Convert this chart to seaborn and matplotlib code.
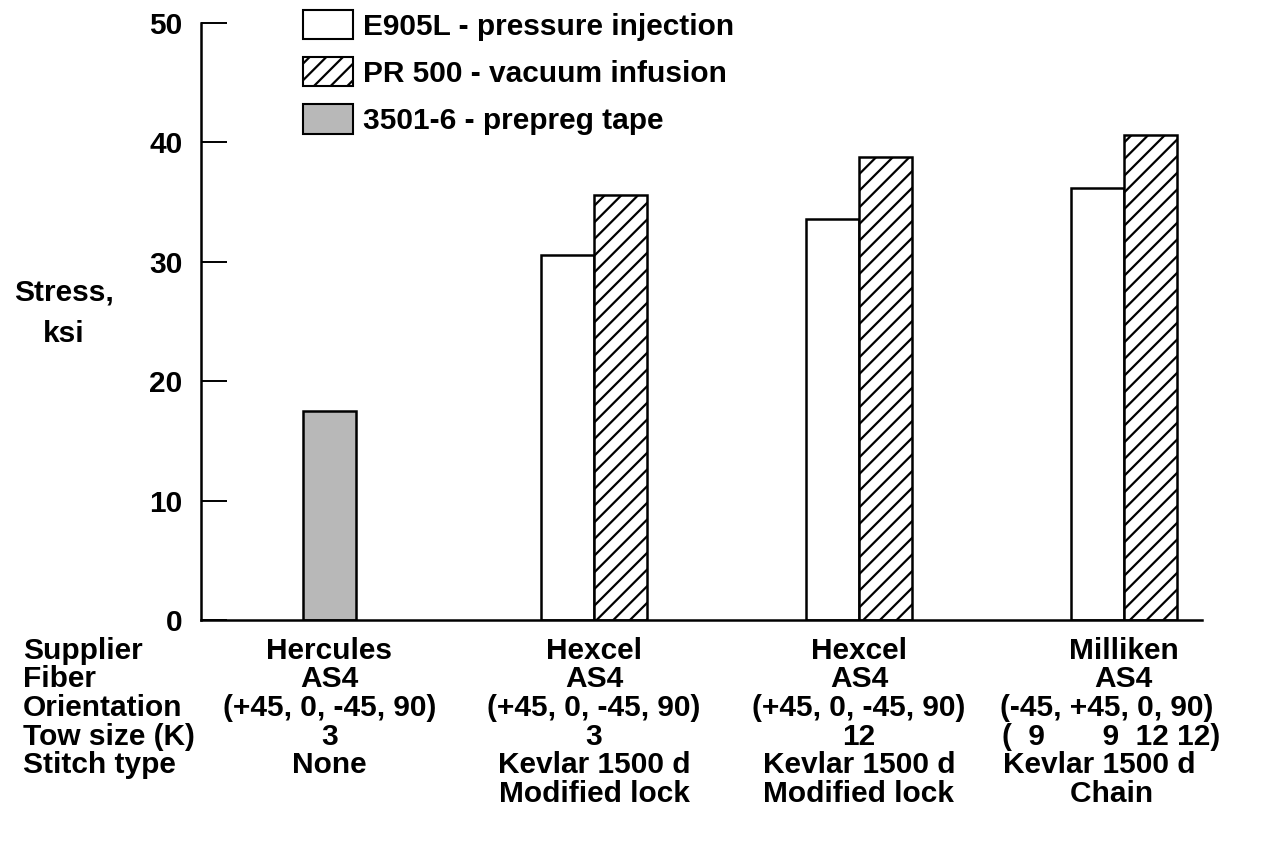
import numpy as np
import pandas as pd
import matplotlib
matplotlib.use("Agg")
import matplotlib.pyplot as plt
import matplotlib.transforms as mtransforms
from matplotlib.patches import Patch
import seaborn as sns

# ---------------- data ----------------
groups = ["Hercules", "Hexcel 3K", "Hexcel 12K", "Milliken"]
e905l = [np.nan, 30.6, 33.6, 36.2]      # E905L - pressure injection
pr500 = [np.nan, 35.6, 38.8, 40.6]      # PR 500 - vacuum infusion
prepreg = [17.5, np.nan, np.nan, np.nan]  # 3501-6 - prepreg tape
series_names = ["E905L - pressure injection", "PR 500 - vacuum infusion", "3501-6 - prepreg tape"]
xlabels = [
    "Hercules\nAS4\n(+45, 0, -45, 90)\n3\nNone",
    "Hexcel\nAS4\n(+45, 0, -45, 90)\n3\nKevlar 1500 d\nModified lock",
    "Hexcel\nAS4\n(+45, 0, -45, 90)\n12\nKevlar 1500 d\nModified lock",
    "Milliken\nAS4\n(-45, +45, 0, 90)    \n(  9       9  12 12)   \nKevlar 1500 d      \nChain   ",
]
row_headers = ["Supplier", "Fiber", "Orientation", "Tow size (K)", "Stitch type"]
yticks = [0, 10, 20, 30, 40, 50]

# ---------------- style ----------------
sns.set_style("ticks")
plt.rcParams["font.family"] = ["Liberation Sans", "DejaVu Sans"]
plt.rcParams["font.weight"] = "bold"
plt.rcParams["hatch.linewidth"] = 1.6
for k in ["text.color", "axes.labelcolor", "xtick.color", "ytick.color", "axes.edgecolor"]:
    plt.rcParams[k] = "black"
FS = 21.5
LS = 1.03

fig = plt.figure(figsize=(12.65, 8.48), dpi=100)
ax = fig.add_axes([201 / 1265, 1 - 620 / 848, (1202 - 201) / 1265, (620 - 23) / 848])

# prepreg (single bar)
df_pp = pd.DataFrame({"group": groups, "value": prepreg}).dropna()
sns.barplot(data=df_pp, x="group", y="value", order=groups, width=0.2,
            color="#b8b8b8", saturation=1, edgecolor="black", linewidth=1.8,
            errorbar=None, ax=ax)

# paired bars
df_pair = pd.concat([
    pd.DataFrame({"group": groups, "resin": series_names[0], "value": e905l}),
    pd.DataFrame({"group": groups, "resin": series_names[1], "value": pr500}),
]).dropna()
sns.barplot(data=df_pair, x="group", y="value", hue="resin", order=groups,
            hue_order=series_names[:2], width=0.4, dodge=True,
            palette={series_names[0]: "white", series_names[1]: "white"},
            saturation=1, edgecolor="black", linewidth=1.8, errorbar=None,
            legend=False, ax=ax)

for bar in ax.containers[-1]:
    bar.set_hatch("//")

# axes
ax.set_xlim(-0.485, 3.296)
ax.set_ylim(0, 50)
ax.set_yticks(yticks)
ax.set_yticklabels([str(t) for t in yticks], fontsize=FS, fontweight="bold")
ax.tick_params(axis="y", direction="in", length=18.5, width=1.4, pad=13.5)
ax.set_xticks(range(len(groups)))
ax.set_xticklabels(xlabels, fontsize=FS, fontweight="bold", linespacing=LS)
ax.tick_params(axis="x", length=0, pad=12)
ax.set_xlabel("")
ax.set_ylabel("Stress,\nksi", rotation=0, fontsize=FS, fontweight="bold",
              ha="center", va="center", linespacing=1.6)
ax.yaxis.set_label_coords(-0.137, 0.514)
sns.despine(ax=ax)
for s in ["left", "bottom"]:
    ax.spines[s].set_linewidth(1.8)

# row headers
trans = mtransforms.blended_transform_factory(fig.transFigure, ax.transAxes)
trans = mtransforms.offset_copy(trans, fig=fig, y=-12, units="points")
ax.text(23 / 1265, 0, "\n".join(row_headers), transform=trans, ha="left", va="top",
        fontsize=FS, fontweight="bold", linespacing=LS)

# legend
handles = [
    Patch(facecolor="white", edgecolor="black", linewidth=1.5),
    Patch(facecolor="white", edgecolor="black", linewidth=1.5, hatch="//"),
    Patch(facecolor="#b8b8b8", edgecolor="black", linewidth=1.5),
]
ax.legend(handles, series_names, loc="upper left", bbox_to_anchor=(102 / 1001, 1 + 13 / 597),
          frameon=False, borderpad=0, borderaxespad=0,
          handlelength=1.67, handleheight=1.13, handletextpad=0.35, labelspacing=0.55,
          prop={"weight": "bold", "size": FS})

fig.savefig("out.png", dpi=100)
